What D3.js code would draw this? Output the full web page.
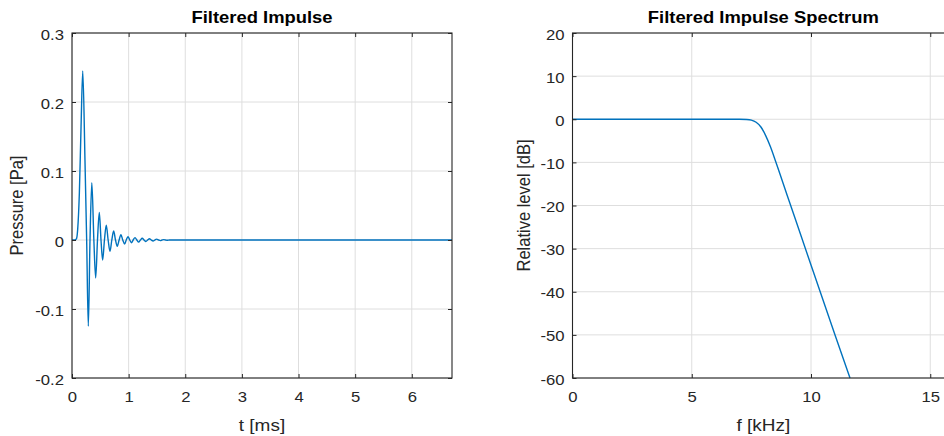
<!DOCTYPE html>
<html>
<head>
<meta charset="utf-8">
<script src="https://cdn.jsdelivr.net/npm/d3@7"></script>
<style>
  html, body { margin: 0; padding: 0; background: #fff; }
  svg { display: block; }
  text { font-family: "Liberation Sans", Arial, Helvetica, sans-serif; }
</style>
</head>
<body>
<svg id="fig" width="944" height="436"></svg>
<script>
// Filtered impulse: time [ms] and pressure [Pa]
const impulseTime = [0, 0.05, 0.08, 0.10, 0.13, 0.16, 0.19, 0.229, 0.259, 0.288, 0.318, 0.350,
  0.386, 0.418, 0.450, 0.482, 0.512, 0.541, 0.573, 0.605, 0.638, 0.671, 0.703, 0.736, 0.768,
  0.799, 0.832, 0.864, 0.896, 0.929, 0.958, 0.988, 1.02, 1.05, 1.08, 1.113, 1.145, 1.177,
  1.208, 1.240, 1.272, 1.304, 1.336, 1.368, 1.40, 1.431, 1.463, 1.495, 1.527, 1.559, 1.59,
  1.622, 1.654, 1.686, 1.72, 6.71];
const impulsePressure = [0, 0, 0.002, 0.015, 0.068, 0.165, 0.245, 0.116, 0, -0.125, 0, 0.083,
  0, -0.055, 0, 0.040, 0, -0.029, 0, 0.0216, 0, -0.0164, 0, 0.013, 0,
  -0.0092, 0, 0.0076, 0, -0.0058, 0, 0.0048, 0, -0.004, 0, 0.0034, 0, -0.003,
  0, 0.0026, 0, -0.0022, 0, 0.0018, 0, -0.0015, 0, 0.0012, 0, -0.0009, 0,
  0.0006, 0, -0.0004, 0, 0];

// Spectrum: frequency [kHz] and relative level [dB]
const specFreq = [0, 7.0, 7.3, 7.5, 7.7, 7.9, 8.1, 8.3, 8.5, 9.0, 10.0, 11.0, 11.635];
const specLevel = [0, 0, -0.05, -0.2, -0.7, -1.8, -3.8, -6.4, -9.5, -17.6, -33.8, -49.9, -60];

// Axis ticks
const tTicks = [0, 1, 2, 3, 4, 5, 6];
const pTicks = [-0.2, -0.1, 0, 0.1, 0.2, 0.3];
const fTicks = [0, 5, 10, 15];
const dbTicks = [-60, -50, -40, -30, -20, -10, 0, 10, 20];

const SX = 1.15;          // horizontal stretch of lettering
const AXIS = "#262626";
const GRID = "#dedede";
const LINE = "#0072BD";

const svg = d3.select("#fig");

// plain hyphen-minus for negative tick values
const hyphen = f => d => f(d).replace("\u2212", "-");

function panel(opts) {
  const { left, right, top, bottom, xDomain, yDomain, xTicks, yTicks, xFmt, yFmt,
          xs, ys, title, xLabel, yLabel, yLabelX, id } = opts;
  const x = d3.scaleLinear().domain(xDomain).range([left, right]);
  const y = d3.scaleLinear().domain(yDomain).range([bottom, top]);
  const g = svg.append("g");

  // grid
  g.append("g").selectAll("line").data(xTicks).join("line")
    .attr("x1", d => x(d)).attr("x2", d => x(d))
    .attr("y1", top).attr("y2", bottom)
    .attr("stroke", GRID).attr("stroke-width", 1);
  g.append("g").selectAll("line").data(yTicks).join("line")
    .attr("x1", left).attr("x2", right)
    .attr("y1", d => y(d)).attr("y2", d => y(d))
    .attr("stroke", GRID).attr("stroke-width", 1);

  // data line
  g.append("clipPath").attr("id", id).append("rect")
    .attr("x", left).attr("y", top - 1).attr("width", right - left).attr("height", bottom - top + 2);
  const pts = xs.map((v, i) => [v, ys[i]]);
  g.append("path").datum(pts)
    .attr("clip-path", `url(#${id})`)
    .attr("fill", "none").attr("stroke", LINE).attr("stroke-width", 1.4)
    .attr("stroke-linejoin", "round")
    .attr("d", d3.line().x(d => x(d[0])).y(d => y(d[1])).curve(d3.curveMonotoneX));

  // axes with inward ticks on all four sides
  const tk = 4;
  const xb = g.append("g").attr("transform", `translate(0,${bottom})`)
    .call(d3.axisBottom(x).tickValues(xTicks).tickFormat(xFmt).tickSizeInner(-tk).tickSizeOuter(0).tickPadding(0));
  const xt = g.append("g").attr("transform", `translate(0,${top})`)
    .call(d3.axisTop(x).tickValues(xTicks).tickFormat("").tickSizeInner(-tk).tickSizeOuter(0));
  const yl = g.append("g").attr("transform", `translate(${left},0)`)
    .call(d3.axisLeft(y).tickValues(yTicks).tickFormat(yFmt).tickSizeInner(-tk).tickSizeOuter(0).tickPadding(0));
  const yr = g.append("g").attr("transform", `translate(${right},0)`)
    .call(d3.axisRight(y).tickValues(yTicks).tickFormat("").tickSizeInner(-tk).tickSizeOuter(0));
  [xb, xt, yl, yr].forEach(a => {
    a.select(".domain").remove();
    a.selectAll(".tick line").attr("stroke", AXIS);
  });
  xb.selectAll(".tick text")
    .attr("y", 0).attr("dy", 0)
    .attr("transform", `translate(0,24) scale(${SX},1)`)
    .attr("font-size", 14.5).attr("fill", AXIS).attr("font-family", null);
  yl.selectAll(".tick text")
    .attr("x", 0).attr("dy", 0)
    .attr("transform", `translate(-8,6) scale(${SX},1)`)
    .attr("font-size", 14.5).attr("fill", AXIS).attr("font-family", null);

  // box
  g.append("rect").attr("x", left).attr("y", top)
    .attr("width", right - left).attr("height", bottom - top)
    .attr("fill", "none").attr("stroke", AXIS).attr("stroke-width", 1.1);

  // title and axis labels
  g.append("text").text(title)
    .attr("transform", `translate(${(left + right) / 2},23) scale(${SX},1)`)
    .attr("text-anchor", "middle").attr("font-weight", "bold")
    .attr("font-size", 16).attr("fill", "#000");
  g.append("text").text(xLabel)
    .attr("transform", `translate(${(left + right) / 2},431) scale(${SX},1)`)
    .attr("text-anchor", "middle")
    .attr("font-size", 16.5).attr("fill", AXIS);
  g.append("text").text(yLabel)
    .attr("transform", `translate(${yLabelX},${(top + bottom) / 2}) rotate(-90) scale(1,${SX})`)
    .attr("text-anchor", "middle")
    .attr("font-size", 16.5).attr("fill", AXIS);
}

const fmtP = d => d === 0 ? "0" : d3.format(".1f")(d);

panel({
  id: "clipL", left: 72, right: 452, top: 33, bottom: 378,
  xDomain: [0, 6.71], yDomain: [-0.2, 0.3],
  xTicks: tTicks, yTicks: pTicks, xFmt: d3.format("d"), yFmt: hyphen(fmtP),
  xs: impulseTime, ys: impulsePressure,
  title: "Filtered Impulse", xLabel: "t [ms]", yLabel: "Pressure [Pa]", yLabelX: 23
});

panel({
  id: "clipR", left: 572.5, right: 572.5 + 16 * 23.85, top: 33, bottom: 378,
  xDomain: [0, 16], yDomain: [-60, 20],
  xTicks: fTicks, yTicks: dbTicks, xFmt: d3.format("d"), yFmt: hyphen(d3.format("d")),
  xs: specFreq, ys: specLevel,
  title: "Filtered Impulse Spectrum", xLabel: "f [kHz]", yLabel: "Relative level [dB]", yLabelX: 530
});
</script>
</body>
</html>
